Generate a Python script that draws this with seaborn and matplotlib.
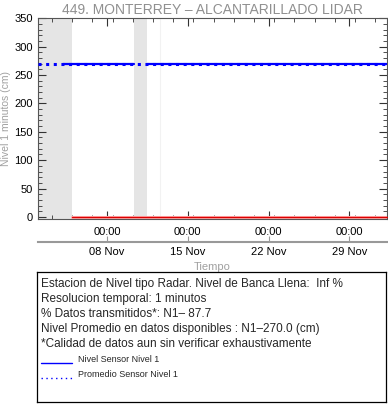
import pandas as pd
import numpy as np
import matplotlib
matplotlib.use("Agg")
import matplotlib.pyplot as plt
import matplotlib.dates as mdates
from matplotlib.ticker import MultipleLocator
import seaborn as sns

# data
x_start, x_end = "2021-11-02 00:00", "2021-12-02 06:00"
level_seg_start = ["2021-11-04 05:00", "2021-11-11 12:00"]
level_seg_end = ["2021-11-10 09:00", "2021-12-02 06:00"]
level_value = [270.0, 270.0]
mean_level = 270.0
zero_start, zero_end = "2021-11-05 00:00", "2021-12-02 06:00"
gap_start = ["2021-11-02 00:00", "2021-11-10 09:00"]
gap_end = ["2021-11-05 00:00", "2021-11-11 12:00"]
faint_line = "2021-11-12 14:00"
major_days = ["2021-11-08", "2021-11-15", "2021-11-22", "2021-11-29"]
info_lines = [
    "Estacion de Nivel tipo Radar. Nivel de Banca Llena:  Inf %",
    "Resolucion temporal: 1 minutos",
    "% Datos transmitidos*: N1\u2013 87.7",
    "Nivel Promedio en datos disponibles : N1\u2013270.0 (cm)",
    "*Calidad de datos aun sin verificar exhaustivamente",
]

sns.set_style("white")
plt.rcParams['font.family'] = ['Liberation Sans', 'DejaVu Sans']

fig = plt.figure(figsize=(3.88, 4.04), dpi=100)
ax = fig.add_axes([0.097, 0.458, 0.9, 0.497])

# gaps in data
for s, e in zip(gap_start, gap_end):
    ax.axvspan(pd.Timestamp(s), pd.Timestamp(e), color="#e5e5e5", lw=0, zorder=0)
ax.axvline(pd.Timestamp(faint_line), color="#f2f2f2", lw=0.8, zorder=0)

# level segments
for s, e, v in zip(level_seg_start, level_seg_end, level_value):
    seg = pd.DataFrame({"t": pd.to_datetime([s, e]), "v": [v, v]})
    sns.lineplot(data=seg, x="t", y="v", ax=ax, color="#0000ff", lw=1.6, zorder=3)

mean_df = pd.DataFrame({"t": pd.to_datetime([x_start, x_end]), "v": [mean_level, mean_level]})
sns.lineplot(data=mean_df, x="t", y="v", ax=ax, color="#0000ff", lw=2.2,
             linestyle=(0, (1, 1.5)), zorder=4)

zero_df = pd.DataFrame({"t": pd.to_datetime([zero_start, zero_end]), "v": [0.0, 0.0]})
sns.lineplot(data=zero_df, x="t", y="v", ax=ax, color="#ffaaaa", lw=2.2, zorder=2, clip_on=False)
sns.lineplot(data=zero_df, x="t", y="v", ax=ax, color="#dd0000", lw=0.9, zorder=3, clip_on=False)

majors = pd.to_datetime(major_days)
minors = pd.date_range("2021-11-01 12:00", "2021-12-03", freq="42h")
ax.set_xticks(majors)
ax.set_xticks(minors, minor=True)
ax.xaxis.set_major_formatter(mdates.DateFormatter("%H:%M"))
ax.set_xlim(pd.Timestamp(x_start), pd.Timestamp(x_end))
ax.set_ylim(-3.5, 350)
ax.yaxis.set_major_locator(MultipleLocator(50))
ax.yaxis.set_minor_locator(MultipleLocator(10))

ax.tick_params(which="both", direction="in", top=True, right=True, bottom=True, left=True,
               labelsize=8, colors="#333333", labelcolor="black")
ax.tick_params(which="major", length=6, width=0.8)
ax.tick_params(which="minor", length=3, width=0.6)
ax.tick_params(axis="x", which="major", pad=6)
for sp in ax.spines.values():
    sp.set_color("#555555")
    sp.set_linewidth(0.8)

ax.set_xlabel("")
ax.set_ylabel("Nivel 1 minutos (cm)", color="#a0a0a0", fontsize=7.5, labelpad=2)
ax.set_title("449. MONTERREY \u2013 ALCANTARILLADO LIDAR", color="#909090", fontsize=10, pad=3)

# second date axis below
sec = ax.secondary_xaxis(-0.114)
sec.set_xticks(majors)
sec.xaxis.set_major_formatter(mdates.DateFormatter("%d %b"))
sec.tick_params(direction="in", length=4, width=0.8, labelsize=8, colors="#999999",
                labelcolor="black", pad=4)
sec.spines["bottom"].set_color("#999999")
sec.spines["bottom"].set_linewidth(1.5)
sec.set_xlabel("Tiempo", color="#a0a0a0", fontsize=8, labelpad=3)
ax.set_xlim(pd.Timestamp(x_start), pd.Timestamp(x_end))

# info box
box = fig.add_axes([0.095, 0.005, 0.9, 0.322])
box.set_xticks([])
box.set_yticks([])
for sp in box.spines.values():
    sp.set_color("black")
    sp.set_linewidth(0.9)
box.set_xlim(0, 1)
box.set_ylim(0, 1)
y0 = 0.905
dy = 0.115
for i, line in enumerate(info_lines):
    box.text(0.012, y0 - i * dy, line, fontsize=8.5, va="center", ha="left")
yl1 = y0 - 5 * dy
yl2 = y0 - 6 * dy
box.plot([0.012, 0.10], [yl1 - 0.03, yl1 - 0.03], color="#0000ff", lw=1.0)
box.text(0.118, yl1, "Nivel Sensor Nivel 1", fontsize=6.5, va="center")
box.plot([0.012, 0.10], [yl2 - 0.03, yl2 - 0.03], color="#0000ff", lw=1.0, linestyle=(0, (1, 2.5)))
box.text(0.118, yl2, "Promedio Sensor Nivel 1", fontsize=6.5, va="center")

fig.savefig("out.png", dpi=100)
